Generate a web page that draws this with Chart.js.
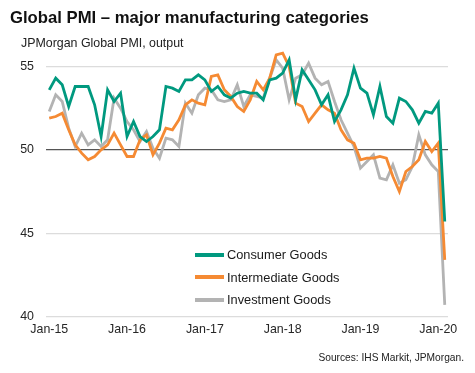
<!DOCTYPE html>
<html>
<head>
<meta charset="utf-8">
<title>Global PMI – major manufacturing categories</title>
<script src="https://cdn.jsdelivr.net/npm/chart.js@4/dist/chart.umd.min.js"></script>
<style>
    html, body {
        margin: 0;
        padding: 0;
        background: #ffffff;
    }
    .wrap {
        position: relative;
        width: 475px;
        height: 373px;
        overflow: hidden;
        font-family: 'Liberation Sans', Arial, sans-serif;
        color: #1a1a1a;
    }
    #chart {
        position: absolute;
        left: 0;
        top: 0;
    }
    .title {
        position: absolute;
        left: 10px;
        top: 10px;
        font-size: 16.7px;
        line-height: 1;
        font-weight: bold;
        white-space: nowrap;
        color: #111;
    }
    .subtitle {
        position: absolute;
        left: 21px;
        top: 37px;
        font-size: 12.4px;
        line-height: 1;
        white-space: nowrap;
        color: #222;
    }
    .source {
        position: absolute;
        right: 11px;
        top: 352.5px;
        font-size: 10.2px;
        line-height: 1;
        white-space: nowrap;
        color: #222;
    }
    .legend-row {
        position: absolute;
        left: 195px;
        height: 16px;
        line-height: 16px;
        font-size: 12.8px;
        white-space: nowrap;
        color: #1a1a1a;
    }
    .legend-row .swatch {
        display: inline-block;
        width: 29px;
        height: 4px;
        margin-right: 3px;
        vertical-align: middle;
        position: relative;
        top: -1px;
    }
</style>
</head>
<body>
<div class="wrap">
    <canvas id="chart" width="475" height="373"></canvas>
    <div class="title">Global PMI – major manufacturing categories</div>
    <div class="subtitle">JPMorgan Global PMI, output</div>
    <div id="legend"></div>
    <div class="source">Sources: IHS Markit, JPMorgan.</div>
</div>
<script>
// Months Jan-15 .. Feb-20
const years = ['15', '16', '17', '18', '19', '20'];
const monthNames = ['Jan', 'Feb', 'Mar', 'Apr', 'May', 'Jun', 'Jul', 'Aug', 'Sep', 'Oct', 'Nov', 'Dec'];
const months = [];
years.forEach(y => monthNames.forEach(m => months.push(m + '-' + y)));
months.length = 62;

const yTicks = [40, 45, 50, 55];

const consumerGoods = [
    53.6, 54.3, 53.9, 52.6, 53.8, 53.8, 53.8, 52.7, 50.8, 53.6, 52.9, 53.4,
    50.8, 51.7, 50.8, 50.5, 50.8, 51.2, 53.8, 53.7, 53.5, 54.2, 54.2, 54.5,
    54.2, 53.5, 53.8, 53.3, 53.1, 53.4, 53.5, 53.4, 53.4, 53.0, 54.2, 54.3,
    54.6, 55.4, 53.0, 54.8, 54.2, 53.6, 52.7, 53.3, 51.7, 52.4, 53.3, 54.9,
    53.7, 53.4, 52.1, 53.8, 52.0, 51.6, 53.1, 52.9, 52.4, 51.6, 52.3, 52.2,
    52.8, 45.7
];

const intermediateGoods = [
    51.9, 52.0, 52.2, 51.2, 50.3, 49.8, 49.4, 49.6, 50.0, 50.3, 51.0, 50.3,
    49.6, 49.6, 50.6, 50.9, 49.7, 50.4, 51.3, 51.2, 51.8, 52.7, 53.0, 52.8,
    52.7, 54.4, 54.5, 53.6, 53.2, 52.6, 52.3, 53.0, 54.1, 53.6, 54.3, 55.7,
    55.8, 55.0, 52.8, 52.6, 51.7, 52.2, 52.7, 52.4, 52.2, 51.2, 50.6, 50.4,
    49.4, 49.5, 49.5, 49.6, 49.5, 48.4, 47.5, 48.7, 49.0, 49.4, 50.5, 49.9,
    50.4, 43.4
];

const investmentGoods = [
    52.3, 53.3, 52.9, 51.3, 50.2, 51.0, 50.3, 50.6, 50.2, 50.6, 53.1, 52.5,
    51.7, 51.2, 50.5, 51.1, 50.1, 49.5, 50.7, 50.6, 50.2, 52.8, 52.2, 53.3,
    53.7, 53.6, 53.0, 52.9, 53.0, 53.9, 52.6, 53.3, 53.2, 53.1, 54.3, 55.4,
    54.9, 53.0, 54.3, 54.5, 55.2, 54.3, 53.9, 54.1, 52.9, 51.8, 51.0, 50.2,
    48.9, 49.3, 49.7, 48.3, 48.2, 49.1, 48.0, 48.2, 49.0, 50.9, 49.7, 49.1,
    48.7, 40.7
];

const seriesNames = ['Consumer Goods', 'Intermediate Goods', 'Investment Goods'];
const seriesColors = ['#00997f', '#f58a33', '#b3b3b3'];

document.addEventListener('DOMContentLoaded', function() {
    const font = "'Liberation Sans', Arial, sans-serif";
    const values = [consumerGoods, intermediateGoods, investmentGoods];

    const ctx = document.getElementById('chart').getContext('2d');
    const chart = new Chart(ctx, {
        type: 'line',
        data: {
            labels: months,
            datasets: seriesNames.map((name, i) => ({
                label: name,
                data: values[i],
                borderColor: seriesColors[i],
                backgroundColor: seriesColors[i],
                borderWidth: 2.8,
                tension: 0,
                pointRadius: 0,
                fill: false,
                clip: false
            }))
        },
        options: {
            responsive: false,
            animation: false,
            layout: {
                padding: { top: 66.5, right: 27, bottom: 0, left: 0 }
            },
            plugins: {
                legend: { display: false },
                tooltip: { enabled: false }
            },
            scales: {
                x: {
                    type: 'category',
                    offset: true,
                    grid: { display: false, drawTicks: false },
                    border: { display: false },
                    ticks: {
                        autoSkip: false,
                        maxRotation: 0,
                        padding: 6,
                        color: '#262626',
                        font: { family: font, size: 12.4 },
                        callback: function(value, index) {
                            return index % 12 === 0 ? months[index] : null;
                        }
                    },
                    afterFit: function(scale) { scale.height = 56.5; }
                },
                y: {
                    min: yTicks[0],
                    max: yTicks[yTicks.length - 1],
                    afterBuildTicks: function(scale) {
                        scale.ticks = yTicks.map(v => ({ value: v }));
                    },
                    grid: {
                        drawTicks: false,
                        color: c => c.tick.value === 50 ? '#555555' : '#dcdcdc',
                        lineWidth: c => c.tick.value === 50 ? 1.3 : 1.2
                    },
                    border: { display: false },
                    ticks: {
                        padding: 12,
                        color: '#262626',
                        font: { family: font, size: 12.4 }
                    },
                    afterFit: function(scale) { scale.width = 46; }
                }
            }
        }
    });

    // Legend sits inside the plot, lower middle
    const legend = document.getElementById('legend');
    const rowTops = [247, 269.5, 292];
    chart.data.datasets.forEach((ds, i) => {
        const row = document.createElement('div');
        row.className = 'legend-row';
        row.style.top = rowTops[i] + 'px';
        const sw = document.createElement('span');
        sw.className = 'swatch';
        sw.style.background = ds.borderColor;
        row.appendChild(sw);
        row.appendChild(document.createTextNode(ds.label));
        legend.appendChild(row);
    });
});
</script>
</body>
</html>
